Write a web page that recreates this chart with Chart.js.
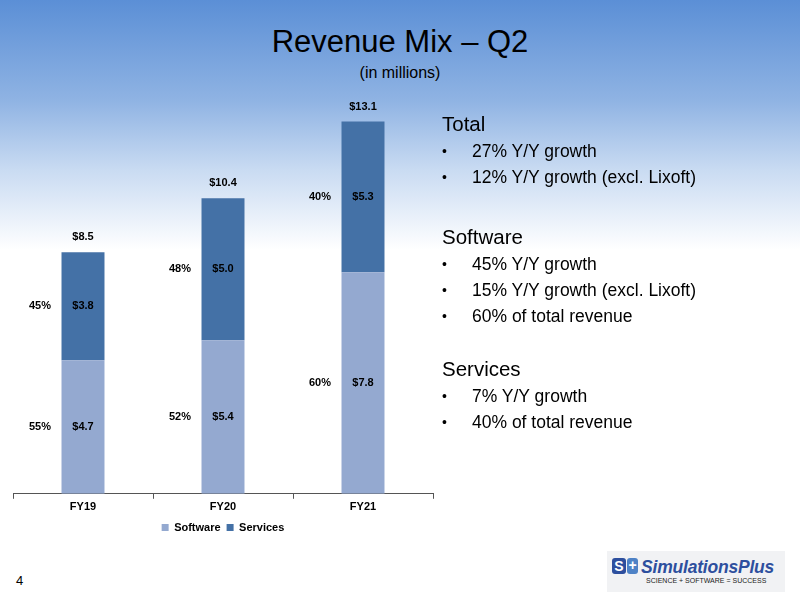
<!DOCTYPE html>
<html>
<head>
<meta charset="utf-8">
<script src="https://cdn.jsdelivr.net/npm/chart.js@4.4.1/dist/chart.umd.min.js"></script>
<style>
  html, body { margin: 0; padding: 0; }
  body {
    width: 800px; height: 599px; position: relative; overflow: hidden;
    font-family: "Liberation Sans", Arial, sans-serif;
    background: linear-gradient(to bottom, #5b8fd6 0px, #8fb3e3 100px, #c9dbf2 170px, #ffffff 250px, #ffffff 599px);
  }
  #titulo { position: absolute; top: 24px; left: 0; width: 800px; text-align: center; font-size: 31px; color: #000; }
  #subtitulo { position: absolute; top: 64px; left: 0; width: 800px; text-align: center; font-size: 16px; color: #000; }
  #grafico-wrap { position: absolute; left: 0; top: 96px; width: 446px; height: 450px; }
  #notas { position: absolute; left: 442px; top: 109px; color: #000; white-space: nowrap; }
  #notas .h { font-size: 20.5px; height: 29px; line-height: 29px; }
  #notas .b { font-size: 17.5px; height: 26px; line-height: 26px; position: relative; padding-left: 30px; }
  #notas .b:before { content: "\2022"; position: absolute; left: 0; font-size: 14px; }
  #notas .sp1 { height: 32px; }
  #notas .sp2 { height: 25px; }
  #pagina { position: absolute; left: 16px; top: 573px; font-size: 13px; }
  #logo { position: absolute; left: 607px; top: 551px; width: 178px; height: 41px; background: #f1f2f4; white-space: nowrap; }
  #logo .s { position: absolute; left: 5px; top: 7px; width: 14px; height: 16px; background: #2d4f9e; border-radius: 3px; color: #fff; font: bold 14px "Liberation Sans"; text-align: center; line-height: 16px; }
  #logo .p { position: absolute; left: 20px; top: 7px; width: 11px; height: 16px; background: #4e82c6; border-radius: 3px; color: #fff; font: bold 14px "Liberation Sans"; text-align: center; line-height: 15px; }
  #logo .n { position: absolute; left: 34px; top: 6px; font: italic bold 17.5px "Liberation Sans"; color: #2d4f9e; letter-spacing: -0.2px; }
  #logo .t { position: absolute; left: 39px; top: 26px; font: 7px "Liberation Sans"; color: #222; }
</style>
</head>
<body>
<div id="titulo">Revenue Mix – Q2</div>
<div id="subtitulo">(in millions)</div>
<div id="grafico-wrap"><canvas id="grafico-ingresos"></canvas></div>
<div id="notas">
  <div class="h">Total</div>
  <div class="b">27% Y/Y growth</div>
  <div class="b">12% Y/Y growth (excl. Lixoft)</div>
  <div class="sp1"></div>
  <div class="h">Software</div>
  <div class="b">45% Y/Y growth</div>
  <div class="b">15% Y/Y growth (excl. Lixoft)</div>
  <div class="b">60% of total revenue</div>
  <div class="sp2"></div>
  <div class="h">Services</div>
  <div class="b">7% Y/Y growth</div>
  <div class="b">40% of total revenue</div>
</div>
<div id="pagina">4</div>
<div id="logo">
  <div class="s">S</div><div class="p">+</div>
  <div class="n">SimulationsPlus</div>
  <div class="t">SCIENCE + SOFTWARE = SUCCESS</div>
</div>
<script>
// Datos del gráfico (millones de dólares)
const categorias = ["FY19", "FY20", "FY21"];
const software = [4.7, 5.4, 7.8];
const servicios = [3.8, 5.0, 5.3];
const totales = [8.5, 10.4, 13.1];
const pctSoftware = ["55%", "52%", "60%"];
const pctServicios = ["45%", "48%", "40%"];

// Plugin para las etiquetas de valores, porcentajes y totales
const etiquetas = {
  id: "etiquetas",
  afterDatasetsDraw(chart) {
    const ctx = chart.ctx;
    ctx.save();
    ctx.font = "bold 11px 'Liberation Sans', Arial, sans-serif";
    ctx.fillStyle = "#000";
    ctx.textAlign = "center";
    ctx.textBaseline = "middle";
    const pcts = [pctSoftware, pctServicios];
    chart.data.datasets.forEach((ds, i) => {
      chart.getDatasetMeta(i).data.forEach((bar, j) => {
        const yc = (bar.y + bar.base) / 2;
        ctx.fillText("$" + ds.data[j].toFixed(1), bar.x, yc);
        ctx.fillText(pcts[i][j], bar.x - 43, yc);
      });
    });
    // Totales encima de cada barra
    chart.getDatasetMeta(1).data.forEach((bar, j) => {
      ctx.fillText("$" + totales[j].toFixed(1), bar.x, bar.y - 15);
    });
    ctx.restore();
  },
};

const ctx = document.getElementById("grafico-ingresos").getContext("2d");
const chart = new Chart(ctx, {
  type: "bar",
  data: {
    labels: categorias,
    datasets: [
      { label: "Software", data: software, backgroundColor: "#94a9d0", borderWidth: 0 },
      { label: "Services", data: servicios, backgroundColor: "#4471a6", borderWidth: 0 },
    ],
  },
  options: {
    responsive: true,
    maintainAspectRatio: false,
    animation: false,
    layout: { padding: { left: 13, right: 13, top: 0, bottom: 3 } },
    categoryPercentage: 1,
    barPercentage: 0.307,
    plugins: {
      legend: {
        position: "bottom",
        labels: {
          boxWidth: 7, boxHeight: 7, padding: 6, color: "#000",
          font: { family: "'Liberation Sans', Arial, sans-serif", size: 11, weight: "bold" },
        },
      },
      tooltip: { enabled: false },
    },
    scales: {
      x: {
        stacked: true,
        grid: { display: true, offset: true, drawOnChartArea: false, drawTicks: true, tickLength: 5, color: "#555" },
        border: { display: true, color: "#555", width: 1 },
        ticks: { color: "#000", font: { family: "'Liberation Sans', Arial, sans-serif", size: 11, weight: "bold" }, padding: 2 },
      },
      y: { stacked: true, display: false, min: 0, max: 14 },
    },
  },
  plugins: [etiquetas],
});
</script>
</body>
</html>
